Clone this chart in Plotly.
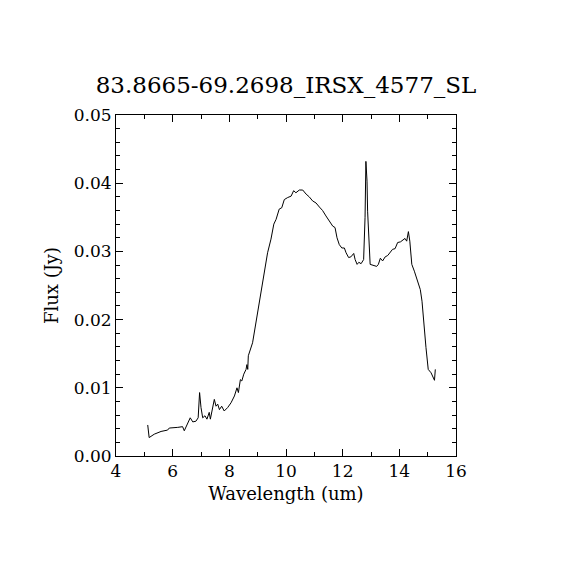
import plotly.graph_objects as go

# spectrum
wavelength = [5.12, 5.17, 5.35, 5.59, 5.82, 5.88, 6.18, 6.35, 6.41, 6.51, 6.62, 6.71,
              6.82, 6.90, 6.95, 7.00, 7.06, 7.14, 7.21, 7.29, 7.33, 7.47, 7.53, 7.59,
              7.65, 7.73, 7.82, 7.94, 8.06, 8.18, 8.27, 8.32, 8.39, 8.44, 8.51, 8.59,
              8.62, 8.65, 8.67, 8.82, 8.88, 9.06, 9.12, 9.29, 9.35, 9.47, 9.57, 9.65,
              9.76, 9.85, 9.94, 10.06, 10.18, 10.27, 10.35, 10.47, 10.59, 10.71, 10.82,
              10.94, 11.06, 11.18, 11.29, 11.41, 11.53, 11.65, 11.73, 11.80, 11.88,
              11.97, 12.06, 12.12, 12.21, 12.29, 12.39, 12.44, 12.51, 12.57, 12.65,
              12.74, 12.79, 12.82, 12.86, 12.88, 12.97, 13.06, 13.20, 13.26, 13.33,
              13.41, 13.50, 13.59, 13.68, 13.76, 13.85, 13.94, 14.04, 14.12, 14.20,
              14.26, 14.32, 14.37, 14.44, 14.53, 14.65, 14.74, 14.80, 14.86, 14.94,
              15.02, 15.12, 15.24, 15.27]
flux = [0.00455, 0.0027, 0.0032, 0.0036, 0.0038, 0.0041, 0.0042, 0.0043, 0.0037, 0.0047,
        0.0056, 0.0050, 0.0051, 0.0056, 0.0093, 0.0071, 0.0056, 0.0059, 0.0054, 0.0064,
        0.0054, 0.0083, 0.0073, 0.0076, 0.0068, 0.0073, 0.0066, 0.0071, 0.0078, 0.0088,
        0.0100, 0.0093, 0.0112, 0.0110, 0.0120, 0.0127, 0.0134, 0.0127, 0.0147, 0.0166,
        0.0181, 0.0222, 0.0237, 0.0286, 0.0298, 0.0318, 0.0340, 0.0347, 0.0362, 0.0364,
        0.0376, 0.0379, 0.0381, 0.0389, 0.0386, 0.0390, 0.0390, 0.0384, 0.0380, 0.0374,
        0.0371, 0.0365, 0.0360, 0.0352, 0.0345, 0.0337, 0.0335, 0.0320, 0.0310, 0.0305,
        0.0305, 0.0298, 0.0291, 0.0292, 0.0297, 0.0288, 0.0281, 0.0284, 0.0282, 0.0288,
        0.0350, 0.0432, 0.0403, 0.0359, 0.0281, 0.0280, 0.0278, 0.0281, 0.0290, 0.0286,
        0.0292, 0.0294, 0.0298, 0.0303, 0.0304, 0.0313, 0.0314, 0.0316, 0.0319, 0.0315,
        0.0329, 0.0315, 0.0281, 0.0271, 0.0257, 0.0244, 0.0227, 0.0193, 0.0159, 0.0127,
        0.0122, 0.0111, 0.0127]

title = '83.8665-69.2698_IRSX_4577_SL'
font_name = 'DejaVu Serif'

fig = go.Figure()
fig.add_trace(go.Scatter(x=wavelength, y=flux, mode='lines',
                         line=dict(color='black', width=1), showlegend=False))

axis_style = dict(showline=True, linecolor='black', linewidth=1, mirror='allticks',
                  ticks='inside', ticklen=7, tickcolor='black', showgrid=False,
                  zeroline=False, tickfont=dict(family=font_name, size=17, color='black'))

fig.update_xaxes(range=[4, 16], tickvals=[4, 6, 8, 10, 12, 14, 16],
                 minor=dict(dtick=1, ticks='inside', ticklen=4, tickcolor='black'),
                 title=dict(text='Wavelength (um)', standoff=6,
                            font=dict(family=font_name, size=18, color='black')),
                 **axis_style)
fig.update_yaxes(range=[0, 0.05], tickvals=[0, 0.01, 0.02, 0.03, 0.04, 0.05],
                 tickformat='.2f',
                 minor=dict(dtick=0.002, ticks='inside', ticklen=4, tickcolor='black'),
                 title=dict(text='Flux (Jy)', standoff=10,
                            font=dict(family=font_name, size=18, color='black')),
                 **axis_style)

fig.update_layout(
    width=570, height=570,
    margin=dict(l=108, r=122, t=107, b=122),
    paper_bgcolor='white', plot_bgcolor='white',
    title=dict(text=title, x=108 / 570 + 170 / 570, xanchor='center', y=1 - 77 / 570,
               yanchor='middle', font=dict(family=font_name, size=23, color='black')),
)

fig.write_html('out.html')
